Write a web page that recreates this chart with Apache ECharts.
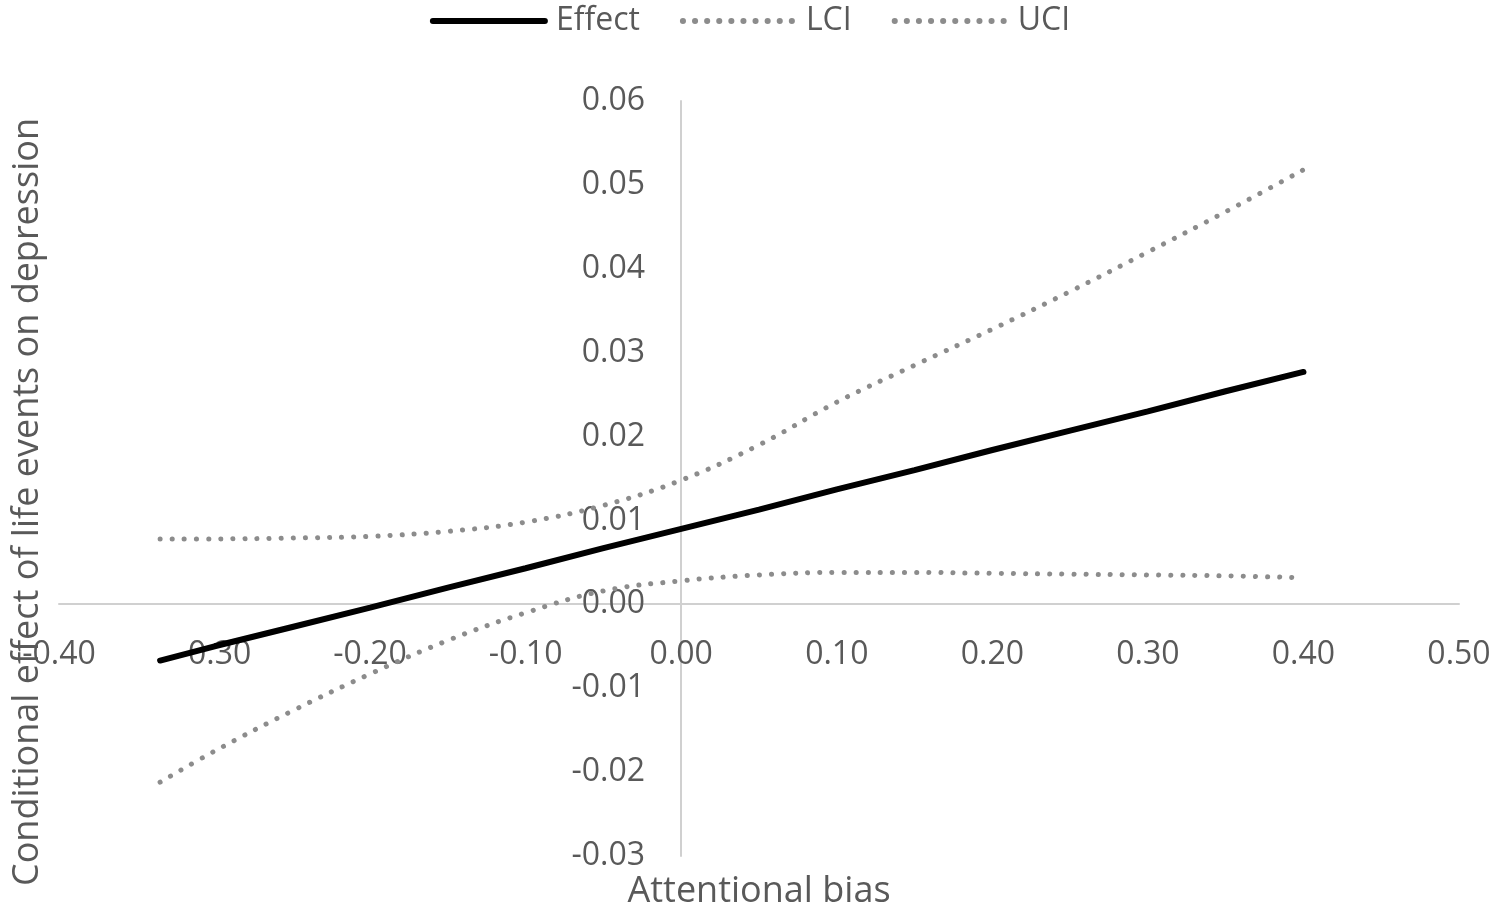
<!DOCTYPE html>
<html>
<head>
<meta charset="utf-8">
<script src="https://cdn.jsdelivr.net/npm/echarts@6/dist/echarts.min.js"></script>
<style>
  html, body { margin: 0; padding: 0; background: #fff; }
  #chart { width: 1500px; height: 915px; }
</style>
</head>
<body>
<div id="chart"></div>
<script>
// values
const xValues = [-0.335, -0.30, -0.25, -0.20, -0.15, -0.10, -0.05, 0.00, 0.05, 0.10, 0.15, 0.20, 0.25, 0.30, 0.35, 0.40];
const lciX = [-0.335, -0.30, -0.25, -0.20, -0.15, -0.10, -0.05, 0.00, 0.05, 0.10, 0.15, 0.20, 0.25, 0.30, 0.35, 0.395];
const effect = [-0.0067, -0.0050, -0.0027, -0.0004, 0.0020, 0.0043, 0.0067, 0.0090, 0.0113, 0.0137, 0.0160, 0.0184, 0.0207, 0.0230, 0.0254, 0.0277];
const lci = [-0.0212, -0.0175, -0.0127, -0.0083, -0.0043, -0.0010, 0.0016, 0.0028, 0.0035, 0.0038, 0.0038, 0.0037, 0.0036, 0.0035, 0.0034, 0.0032];
const uci = [0.0078, 0.0078, 0.0079, 0.0081, 0.0087, 0.0098, 0.0118, 0.0148, 0.0190, 0.0241, 0.0285, 0.0328, 0.0373, 0.0420, 0.0468, 0.0518];

const FONT = '"Open Sans", "Noto Sans", sans-serif';
const TEXT = '#595959';
const AXIS = '#d0d0d0';

const chart = echarts.init(document.getElementById('chart'));

const pairs = (xs, ys) => xs.map((x, i) => [x, ys[i]]);

const dotted = {
  color: '#8c8c8c',
  width: 5,
  type: [0.1, 12],
  cap: 'round'
};

// axes cross at zero; shift the whole axes (line + labels) there
const xShift = -(856 - 604);
const yShift = -(681 - 59);

const option = {
  animation: false,
  textStyle: { fontFamily: FONT },
  legend: {
    top: 0,
    left: 'center',
    itemWidth: 112,
    itemHeight: 20,
    itemGap: 40,
    itemStyle: { opacity: 0 },
    lineStyle: { width: 6, cap: 'round' },
    textStyle: { fontSize: 32, color: TEXT, fontFamily: FONT, padding: [0, 0, 0, 6] },
    data: ['Effect', 'LCI', 'UCI']
  },
  grid: {
    left: 59, right: 41, top: 101, bottom: 59,
    containLabel: false,
    outerBoundsMode: 'none'
  },
  xAxis: {
    type: 'value',
    min: -0.4,
    max: 0.5,
    interval: 0.1,
    offset: xShift,
    name: 'Attentional bias',
    nameLocation: 'middle',
    nameGap: 270,
    nameTextStyle: { fontSize: 36, color: TEXT, fontFamily: FONT },
    axisLine: { onZero: false, lineStyle: { color: AXIS, width: 2 } },
    axisTick: { show: false },
    splitLine: { show: false },
    axisLabel: {
      fontSize: 32,
      color: TEXT,
      margin: 35,
      fontFamily: FONT,
      formatter: v => v.toFixed(2)
    }
  },
  yAxis: {
    type: 'value',
    min: -0.03,
    max: 0.06,
    interval: 0.01,
    offset: yShift,
    axisLine: { onZero: false, lineStyle: { color: AXIS, width: 2 } },
    axisTick: { show: false },
    splitLine: { show: false },
    axisLabel: {
      fontSize: 32,
      color: TEXT,
      margin: 36,
      fontFamily: FONT,
      formatter: v => v.toFixed(2)
    }
  },
  graphic: [{
    type: 'text',
    x: 28,
    y: 502,
    rotation: Math.PI / 2,
    style: {
      text: 'Conditional effect of life events on depression',
      fontSize: 36,
      fontFamily: FONT,
      fill: TEXT,
      align: 'center',
      verticalAlign: 'middle'
    }
  }],
  series: [
    {
      name: 'Effect',
      type: 'line',
      data: pairs(xValues, effect),
      showSymbol: false,
      symbol: 'none',
      itemStyle: { color: '#000' },
      lineStyle: { color: '#000', width: 6, cap: 'round' }
    },
    {
      name: 'LCI',
      type: 'line',
      data: pairs(lciX, lci),
      showSymbol: false,
      symbol: 'none',
      smooth: 0.4,
      itemStyle: { color: '#8c8c8c' },
      lineStyle: dotted
    },
    {
      name: 'UCI',
      type: 'line',
      data: pairs(xValues, uci),
      showSymbol: false,
      symbol: 'none',
      smooth: 0.4,
      itemStyle: { color: '#8c8c8c' },
      lineStyle: dotted
    }
  ]
};

chart.setOption(option);
</script>
</body>
</html>
